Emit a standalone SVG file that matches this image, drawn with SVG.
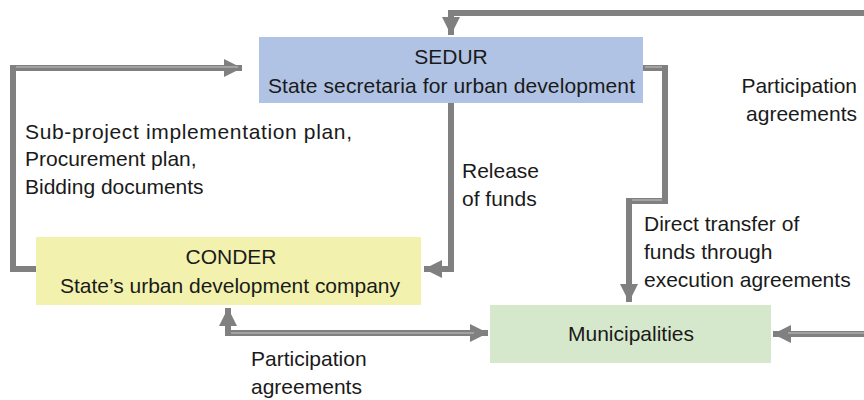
<svg xmlns="http://www.w3.org/2000/svg" width="864" height="400" viewBox="0 0 864 400">
<defs>
<style>
.t{font-family:"Liberation Sans",Arial,sans-serif;font-size:21px;fill:#1a1a1a}
.c{text-anchor:middle}
.e{text-anchor:end}
.ln{fill:none;stroke:#808080;stroke-width:6;stroke-linejoin:miter}
.hl{fill:none;stroke:#c4c4c4;stroke-width:1.2}
</style>
<marker id="ah" markerUnits="userSpaceOnUse" markerWidth="20" markerHeight="20" refX="18" refY="10" orient="auto-start-reverse" viewBox="0 0 20 20">
<path d="M0,1 L18,10 L0,19 Z" fill="#808080"/>
</marker>
</defs>
<g id="connectors">
<path class="ln" d="M36,269 H13 V68 H242" marker-end="url(#ah)"/>
<path class="ln" d="M451,103 V269 H424" marker-end="url(#ah)"/>
<path class="ln" d="M643,68 H665 V201 H629 V302" marker-end="url(#ah)"/>
<path class="ln" d="M864,13 H451 V35" marker-end="url(#ah)"/>
<path class="ln" d="M864,334 H773" marker-end="url(#ah)"/>
<path class="ln" d="M228,308 V333 H488" marker-start="url(#ah)" marker-end="url(#ah)"/>
<path class="hl" d="M16,67 H238 M645,67 H662 M632,200 H662 M231,333 H474 M864,333 H788"/>
</g>
<g id="sedur">
<rect x="259" y="37" width="384" height="66" fill="#b0c3e4"/>
<text class="t c" x="451" y="64">SEDUR</text>
<text class="t" x="268" y="93" textLength="367">State secretaria for urban development</text>
</g>
<g id="conder">
<rect x="36" y="237" width="385" height="68" fill="#f2f2ae"/>
<text class="t c" x="231" y="264">CONDER</text>
<text class="t" x="60" y="293" textLength="340">State’s urban development company</text>
</g>
<g id="municipalities">
<rect x="490" y="305" width="281" height="58" fill="#d6e8cc"/>
<text class="t c" x="631" y="341">Municipalities</text>
</g>
<g id="labels">
<text class="t" x="25" y="139" textLength="327">Sub-project implementation plan,</text>
<text class="t" x="25" y="166">Procurement plan,</text>
<text class="t" x="25" y="194">Bidding documents</text>
<text class="t" x="462" y="178">Release</text>
<text class="t" x="462" y="206">of funds</text>
<text class="t e" x="857" y="93">Participation</text>
<text class="t e" x="857" y="121">agreements</text>
<text class="t" x="644" y="231">Direct transfer of</text>
<text class="t" x="644" y="259">funds through</text>
<text class="t" x="644" y="287">execution agreements</text>
<text class="t" x="251" y="366">Participation</text>
<text class="t" x="251" y="394">agreements</text>
</g>
</svg>
